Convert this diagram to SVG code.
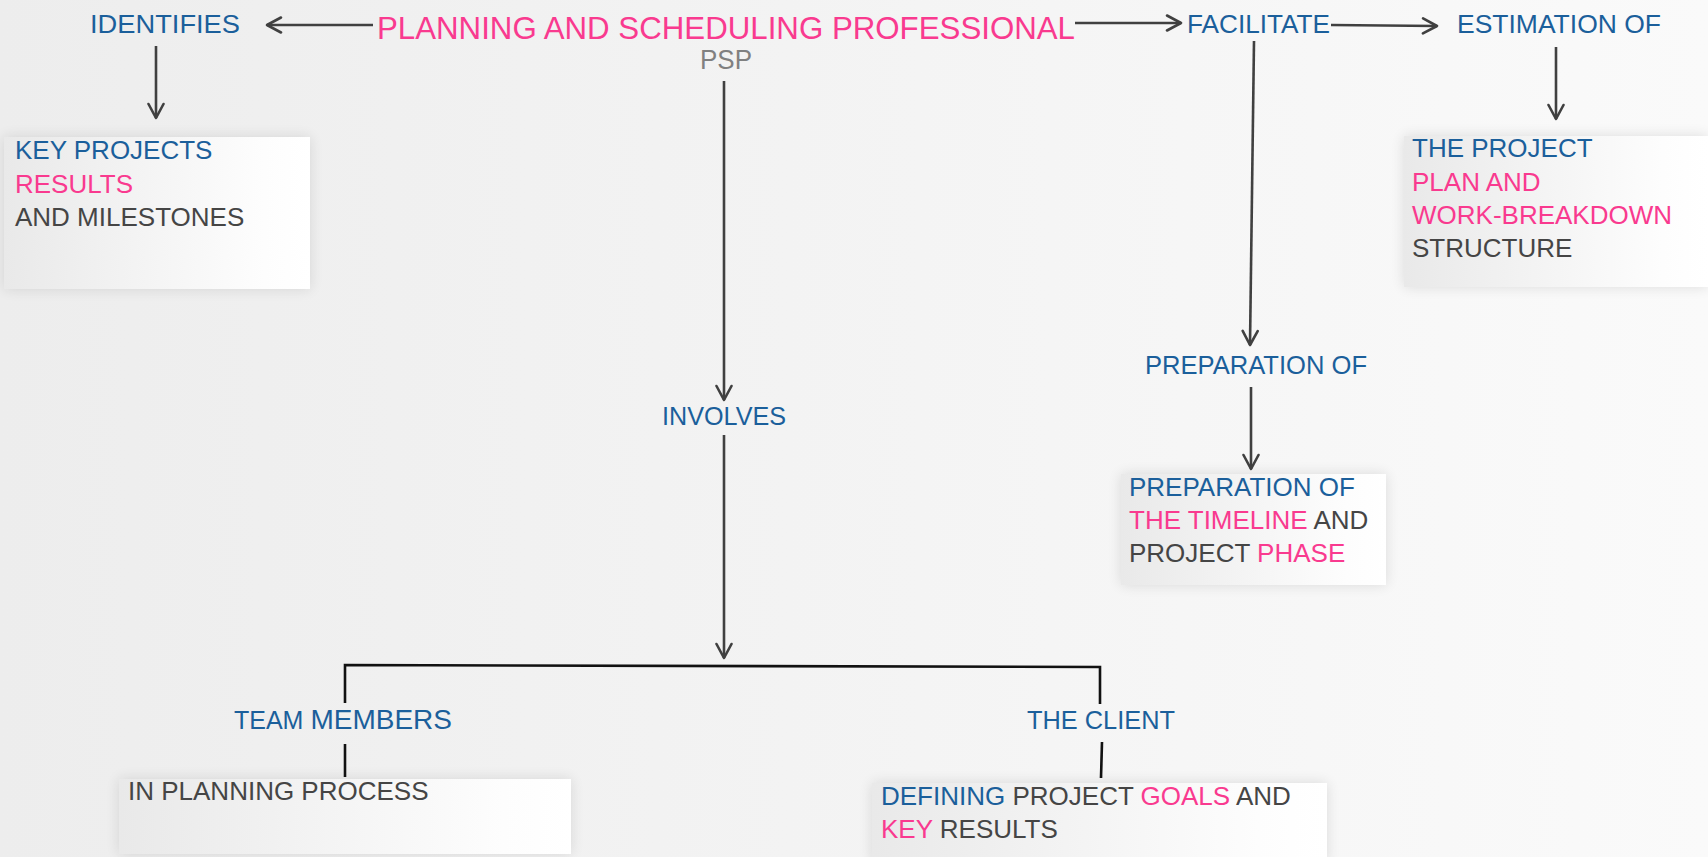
<svg xmlns="http://www.w3.org/2000/svg" width="1708" height="857" viewBox="0 0 1708 857">
  <defs>
    <linearGradient id="bg" x1="0" y1="0" x2="1" y2="0">
      <stop offset="0" stop-color="#ededed"/>
      <stop offset="1" stop-color="#fafafa"/>
    </linearGradient>
    <linearGradient id="card" x1="0" y1="0" x2="1" y2="0">
      <stop offset="0" stop-color="#e9e9e9"/>
      <stop offset="0.85" stop-color="#fdfdfd"/>
      <stop offset="1" stop-color="#ffffff"/>
    </linearGradient>
    <filter id="glow" x="-10%" y="-20%" width="120%" height="140%">
      <feGaussianBlur in="SourceAlpha" stdDeviation="7"/>
      <feComponentTransfer><feFuncA type="linear" slope="0.12"/></feComponentTransfer>
      <feMerge><feMergeNode/><feMergeNode in="SourceGraphic"/></feMerge>
    </filter>
    <marker id="chev" viewBox="0 0 18 18" refX="16" refY="9" markerWidth="18" markerHeight="18" markerUnits="userSpaceOnUse" orient="auto">
      <path d="M2,1.5 L16,9 L2,16.5" fill="none" stroke="#404040" stroke-width="2.6" stroke-linecap="round" stroke-linejoin="round"/>
    </marker>
  </defs>
  <style>
    text { font-family: "Liberation Sans", Arial, sans-serif; }
    .lbl { font-size: 26px; fill: #1b5f9b; }
    .card { font-size: 26px; fill: #454545; }
    .b { fill: #1b5f9b; }
    .p { fill: #f93a8f; }
    .d { fill: #454545; }
    .arrow { stroke: #404040; stroke-width: 2.6; fill: none; marker-end: url(#chev); }
    .tie { stroke: #111111; stroke-width: 2.6; fill: none; }
    .box { fill: url(#card); filter: url(#glow); }
  </style>

  <rect x="0" y="0" width="1708" height="857" fill="url(#bg)"/>

  <!-- connectors -->
  <g id="connectors">
    <path class="arrow" d="M373,25 L267,25"/>
    <path class="arrow" d="M156,46 L156,118"/>
    <path class="arrow" d="M1075,23 L1181,23"/>
    <path class="arrow" d="M1331,25 L1437,26"/>
    <path class="arrow" d="M1556,47 L1556,119"/>
    <path class="arrow" d="M1254,41 L1250,345"/>
    <path class="arrow" d="M1251,387 L1251,469"/>
    <path class="arrow" d="M724,81 L724,400"/>
    <path class="arrow" d="M724,435 L724,658"/>
    <path class="tie" d="M345,703 L345,665 L1100,667 L1100,704"/>
    <path class="tie" d="M345,744 L345,777"/>
    <path class="tie" d="M1102,742 L1101,778"/>
  </g>

  <!-- central topic -->
  <g id="psp">
    <text x="377" y="39" font-size="31" fill="#f93a8f" textLength="698" lengthAdjust="spacingAndGlyphs">PLANNING AND SCHEDULING PROFESSIONAL</text>
    <text x="700" y="69" font-size="28" fill="#808080" textLength="52" lengthAdjust="spacingAndGlyphs">PSP</text>
  </g>

  <g id="identifies">
    <text class="lbl" x="90" y="33" textLength="150" lengthAdjust="spacingAndGlyphs">IDENTIFIES</text>
  </g>

  <g id="key-projects">
    <rect class="box" x="4" y="137" width="306" height="152"/>
    <text class="card" x="15" y="159"><tspan class="b">KEY PROJECTS</tspan></text>
    <text class="card" x="15" y="193"><tspan class="p">RESULTS</tspan></text>
    <text class="card" x="15" y="226"><tspan class="d">AND MILESTONES</tspan></text>
  </g>

  <g id="facilitate">
    <text class="lbl" x="1187" y="33" textLength="143" lengthAdjust="spacingAndGlyphs">FACILITATE</text>
  </g>

  <g id="estimation">
    <text class="lbl" x="1457" y="33" textLength="204" lengthAdjust="spacingAndGlyphs">ESTIMATION OF</text>
  </g>

  <g id="project-plan">
    <rect class="box" x="1404" y="136" width="304" height="151"/>
    <text class="card" x="1412" y="157"><tspan class="b">THE PROJECT</tspan></text>
    <text class="card" x="1412" y="191"><tspan class="p">PLAN AND</tspan></text>
    <text class="card" x="1412" y="224"><tspan class="p">WORK-BREAKDOWN</tspan></text>
    <text class="card" x="1412" y="257"><tspan class="d">STRUCTURE</tspan></text>
  </g>

  <g id="preparation">
    <text class="lbl" x="1145" y="374" textLength="222" lengthAdjust="spacingAndGlyphs">PREPARATION OF</text>
  </g>

  <g id="timeline">
    <rect class="box" x="1121" y="474" width="265" height="111"/>
    <text class="card" x="1129" y="496"><tspan class="b">PREPARATION OF</tspan></text>
    <text class="card" x="1129" y="529"><tspan class="p">THE TIMELINE</tspan><tspan class="d"> AND</tspan></text>
    <text class="card" x="1129" y="562"><tspan class="d">PROJECT </tspan><tspan class="p">PHASE</tspan></text>
  </g>

  <g id="involves">
    <text class="lbl" x="662" y="425" textLength="124" lengthAdjust="spacingAndGlyphs">INVOLVES</text>
  </g>

  <g id="team-members">
    <text class="lbl" x="234" y="729"><tspan font-size="25">TEAM </tspan><tspan font-size="28">MEMBERS</tspan></text>
  </g>

  <g id="planning-process">
    <rect class="box" x="119" y="779" width="452" height="75"/>
    <text class="card" x="128" y="800"><tspan class="d">IN PLANNING PROCESS</tspan></text>
  </g>

  <g id="the-client">
    <text class="lbl" x="1027" y="729" textLength="148" lengthAdjust="spacingAndGlyphs">THE CLIENT</text>
  </g>

  <g id="goals">
    <rect class="box" x="872" y="783" width="455" height="80"/>
    <text class="card" x="881" y="805"><tspan class="b">DEFINING</tspan><tspan class="d"> PROJECT </tspan><tspan class="p">GOALS</tspan><tspan class="d"> AND</tspan></text>
    <text class="card" x="881" y="838"><tspan class="p">KEY</tspan><tspan class="d"> RESULTS</tspan></text>
  </g>
</svg>
